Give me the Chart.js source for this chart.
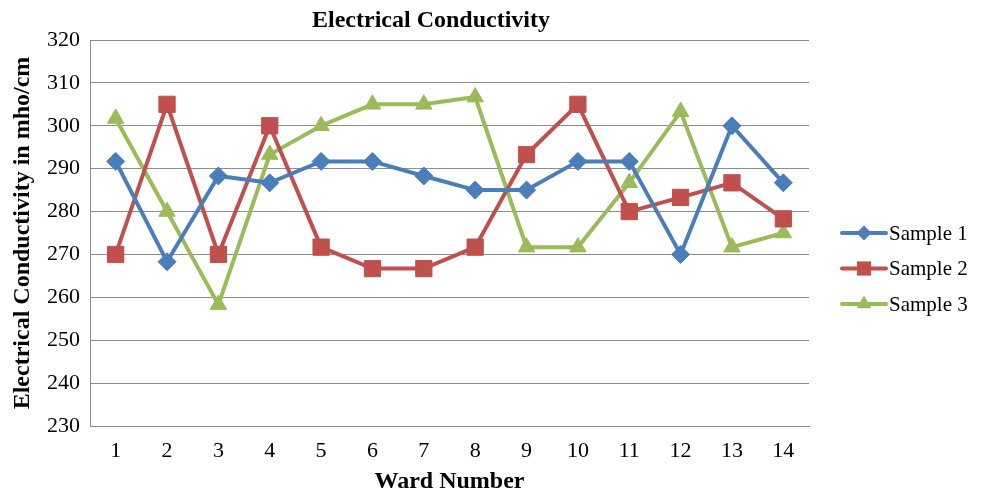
<!DOCTYPE html>
<html>
<head>
<meta charset="utf-8">
<script src="https://cdn.jsdelivr.net/npm/chart.js@4/dist/chart.umd.min.js"></script>
<style>
  html, body { margin: 0; padding: 0; background: #ffffff; }
  #wrap { width: 984px; height: 497px; }
</style>
</head>
<body>
<div id="wrap"><canvas id="ec" width="984" height="497"></canvas></div>
<script>
// Ward-wise electrical conductivity, three samples per ward (mho/cm)
const wards = ['1', '2', '3', '4', '5', '6', '7', '8', '9', '10', '11', '12', '13', '14'];
const sample1 = [291.7, 268.3, 288.3, 286.7, 291.7, 291.7, 288.3, 285.0, 285.0, 291.7, 291.7, 270.0, 300.0, 286.7];
const sample2 = [270.0, 305.0, 270.0, 300.0, 271.7, 266.7, 266.7, 271.7, 293.3, 305.0, 280.0, 283.3, 286.7, 278.3];
const sample3 = [301.7, 280.0, 258.3, 293.3, 300.0, 305.0, 305.0, 306.7, 271.7, 271.7, 286.7, 303.3, 271.7, 275.0];
const seriesNames = ['Sample 1', 'Sample 2', 'Sample 3'];
const yMin = 230, yMax = 320, yStep = 10;

const BLUE = '#4a7ebb', RED = '#c0504d', GREEN = '#9bbb59';
const SERIF = "'Liberation Serif', 'Times New Roman', serif";

function series(label, data, color, style, radius) {
  return {
    label, data,
    borderColor: color, backgroundColor: color,
    borderWidth: 4,
    pointStyle: style, pointRadius: radius, pointHoverRadius: radius,
    pointBorderWidth: 1, pointBorderColor: color, pointBackgroundColor: color,
    tension: 0
  };
}

function marker(ctx, style, x, y, r) {
  ctx.beginPath();
  if (style === 'rectRot') {
    ctx.moveTo(x, y - r); ctx.lineTo(x + r, y); ctx.lineTo(x, y + r); ctx.lineTo(x - r, y);
  } else if (style === 'rect') {
    const s = r * Math.SQRT1_2;
    ctx.rect(x - s, y - s, 2 * s, 2 * s);
  } else {
    const h = r * Math.sqrt(3) / 2;
    ctx.moveTo(x, y - r); ctx.lineTo(x + h, y + r / 2); ctx.lineTo(x - h, y + r / 2);
  }
  ctx.closePath();
  ctx.fill();
}

// Chart heading and the line-with-marker legend on the right
const decorations = {
  id: 'decorations',
  afterDraw(chart) {
    const ctx = chart.ctx;
    const area = chart.chartArea;
    ctx.save();
    ctx.fillStyle = '#000000';
    ctx.font = 'bold 24px ' + SERIF;
    ctx.textAlign = 'center';
    ctx.textBaseline = 'middle';
    ctx.fillText('Electrical Conductivity', 431, 21);

    const rows = [233, 268.5, 304];
    chart.data.datasets.forEach((ds, i) => {
      const y = rows[i];
      const x0 = area.right + 33, x1 = area.right + 77;
      ctx.strokeStyle = ds.borderColor;
      ctx.lineWidth = 4;
      ctx.lineCap = 'round';
      ctx.beginPath(); ctx.moveTo(x0, y); ctx.lineTo(x1, y); ctx.stroke();
      ctx.fillStyle = ds.borderColor;
      const r = ds.pointStyle === 'rect' ? 10 : (ds.pointStyle === 'triangle' ? 8.5 : 7.5);
      marker(ctx, ds.pointStyle, (x0 + x1) / 2, y, r);
      ctx.fillStyle = '#000000';
      ctx.font = '21px ' + SERIF;
      ctx.textAlign = 'left';
      ctx.fillText(ds.label, x1 + 3, y + 1);
    });
    ctx.restore();
  }
};

new Chart(document.getElementById('ec'), {
  type: 'line',
  data: {
    labels: wards,
    datasets: [
      series(seriesNames[0], sample1, BLUE, 'rectRot', 9),
      series(seriesNames[1], sample2, RED, 'rect', 11.5),
      series(seriesNames[2], sample3, GREEN, 'triangle', 9.5)
    ]
  },
  options: {
    responsive: false,
    animation: false,
    devicePixelRatio: 1,
    layout: { padding: { top: 40, right: 175, left: 0, bottom: 0 } },
    plugins: {
      legend: { display: false },
      title: { display: false },
      tooltip: { enabled: false }
    },
    scales: {
      x: {
        offset: true,
        grid: { display: false, drawTicks: false },
        border: { display: true, color: '#8c8c8c', width: 1 },
        ticks: { color: '#000000', font: { family: SERIF, size: 22 }, padding: 12, maxRotation: 0 },
        title: { display: true, text: 'Ward Number', color: '#000000',
                 font: { family: SERIF, size: 24, weight: 'bold' }, padding: { top: 1, bottom: 1 } },
        afterFit(scale) { scale.height = 71; }
      },
      y: {
        min: yMin, max: yMax,
        grid: { color: '#8c8c8c', lineWidth: 1, drawTicks: false },
        border: { display: true, color: '#8c8c8c', width: 1 },
        ticks: { stepSize: yStep, color: '#000000', font: { family: SERIF, size: 22 }, padding: 10 },
        title: { display: true, text: 'Electrical Conductivity in mho/cm', color: '#000000',
                 font: { family: SERIF, size: 24, weight: 'bold' }, padding: { top: 8, bottom: 0 } },
        afterFit(scale) { scale.width = 90; }
      }
    }
  },
  plugins: [decorations]
});
</script>
</body>
</html>
